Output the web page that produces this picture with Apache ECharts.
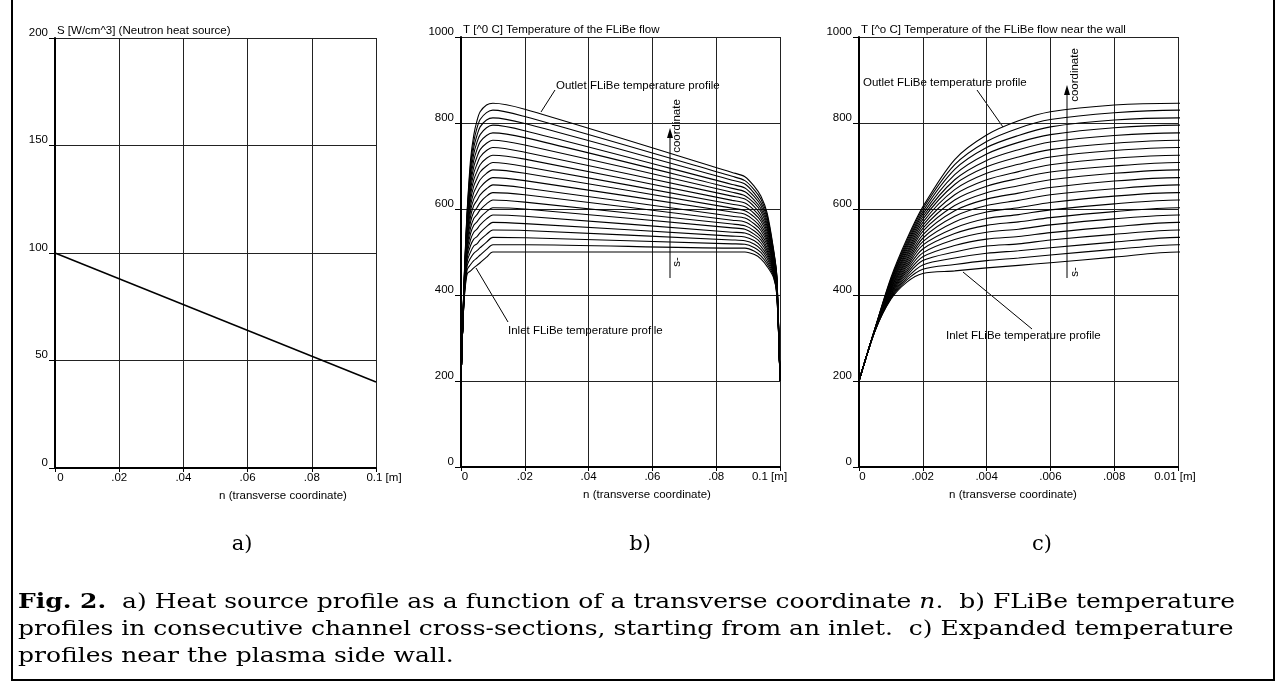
<!DOCTYPE html>
<html>
<head>
<meta charset="utf-8">
<script src="https://cdn.jsdelivr.net/npm/echarts@6/dist/echarts.min.js"></script>
<style>
html, body { margin: 0; padding: 0; background: #fff; }
#chart { width: 1287px; height: 689px; }
</style>
</head>
<body>
<div id="chart"></div>
<script>
const nGrid = [0, 0.0005, 0.001, 0.0015, 0.002, 0.003, 0.004, 0.005, 0.006, 0.008, 0.01, 0.02, 0.085, 0.089, 0.092, 0.094, 0.096, 0.098, 0.099, 0.1];

// heat source S(n)
const sourceN = [0, 0.1];
const sourceS = [100, 40];

// FLiBe temperature profiles T(n), inlet first ... outlet last
const profiles = [
  [200, 316, 390, 430, 450, 456, 463, 469, 475, 488, 500, 500, 500, 500, 494, 484, 466, 440, 400, 200],
  [200, 316, 392, 435, 460, 471, 480, 486, 493, 506, 517, 517, 509, 509, 502, 491, 472, 443, 402, 200],
  [200, 317, 395, 440, 470, 486, 497, 503, 510, 523, 534, 533, 519, 518, 510, 499, 478, 447, 405, 200],
  [200, 317, 397, 445, 480, 500, 514, 519, 528, 541, 551, 550, 528, 526, 518, 506, 485, 450, 407, 200],
  [200, 317, 400, 450, 489, 515, 530, 536, 545, 559, 569, 566, 537, 535, 526, 513, 491, 453, 409, 200],
  [200, 318, 402, 455, 498, 529, 546, 553, 563, 577, 586, 583, 546, 544, 534, 521, 497, 456, 411, 200],
  [200, 318, 405, 460, 507, 543, 562, 570, 580, 594, 603, 600, 556, 553, 541, 528, 503, 460, 414, 200],
  [200, 318, 407, 465, 516, 556, 578, 587, 598, 612, 621, 616, 565, 561, 549, 535, 509, 463, 416, 200],
  [200, 319, 410, 470, 524, 570, 593, 603, 615, 630, 638, 633, 574, 570, 557, 542, 516, 466, 418, 200],
  [200, 319, 412, 475, 532, 583, 608, 620, 633, 647, 656, 649, 583, 579, 565, 550, 522, 469, 420, 200],
  [200, 319, 415, 480, 540, 596, 623, 637, 650, 665, 673, 666, 593, 588, 573, 557, 528, 473, 423, 200],
  [200, 319, 417, 485, 548, 608, 638, 654, 668, 683, 691, 683, 602, 596, 581, 564, 534, 476, 425, 200],
  [200, 320, 420, 490, 555, 621, 653, 671, 686, 700, 708, 699, 611, 605, 589, 572, 540, 479, 427, 200],
  [200, 320, 422, 495, 562, 633, 668, 687, 703, 718, 725, 716, 620, 614, 597, 579, 547, 482, 429, 200],
  [200, 320, 425, 500, 569, 645, 683, 704, 721, 736, 743, 732, 630, 623, 605, 586, 553, 486, 432, 200],
  [200, 321, 427, 505, 576, 657, 698, 721, 738, 753, 760, 749, 639, 631, 613, 594, 559, 489, 434, 200],
  [200, 321, 430, 510, 582, 668, 713, 738, 756, 771, 777, 766, 648, 640, 620, 601, 565, 492, 436, 200],
  [200, 321, 432, 515, 588, 680, 728, 755, 773, 789, 795, 782, 657, 649, 628, 608, 571, 495, 438, 200],
  [200, 322, 435, 520, 594, 692, 743, 771, 791, 807, 812, 799, 667, 658, 636, 615, 578, 499, 441, 200],
  [200, 322, 437, 525, 600, 703, 757, 788, 808, 824, 830, 815, 676, 666, 644, 623, 584, 502, 443, 200],
  [200, 322, 440, 530, 605, 715, 772, 805, 826, 842, 846, 832, 685, 675, 652, 630, 590, 505, 445, 200]
];

// tick labels
const xLabelsWide = ['0', '.02', '.04', '.06', '.08', '0.1 [m]'];
const xLabelsNear = ['0', '.002', '.004', '.006', '.008', '0.01 [m]'];
const sTicks = [0, 50, 100, 150, 200];
const tTicks = [0, 200, 400, 600, 800, 1000];

const SANS = '"Liberation Sans", Arial, sans-serif';
const SERIF = '"DejaVu Serif", serif';
const FS = 11.5;

const chart = echarts.init(document.getElementById('chart'));

function xAxisFor(grid, max, labels, firstPad, lastPad) {
  return {
    type: 'value', gridIndex: grid, min: 0, max: max, interval: max / (labels.length - 1),
    axisLine: { show: true, onZero: false, lineStyle: { color: '#000', width: 2 } },
    axisTick: { show: true, length: 4, lineStyle: { color: '#000' } },
    splitLine: { show: true, lineStyle: { color: '#222', width: 1 } },
    axisLabel: {
      show: true, showMinLabel: true, showMaxLabel: true, margin: 4,
      color: '#000', fontFamily: SANS, fontSize: FS,
      formatter: function (v, i) {
        if (i === 0) return '{f|' + labels[0] + '}';
        if (i === labels.length - 1) return '{l|' + labels[i] + '}';
        return labels[i];
      },
      rich: {
        f: { fontFamily: SANS, fontSize: FS, color: '#000', padding: [0, 0, 0, firstPad] },
        l: { fontFamily: SANS, fontSize: FS, color: '#000', padding: lastPad }
      }
    }
  };
}

function yAxisFor(grid, ticks, name) {
  return {
    type: 'value', gridIndex: grid, min: ticks[0], max: ticks[ticks.length - 1],
    interval: ticks[1] - ticks[0],
    name: name, nameLocation: 'end', nameGap: 1,
    nameTextStyle: { color: '#000', fontFamily: SANS, fontSize: FS, align: 'left', verticalAlign: 'bottom', padding: [0, 0, 0, 2], lineHeight: 12 },
    axisLine: { show: true, lineStyle: { color: '#000', width: 2 } },
    axisTick: { show: true, length: 6, lineStyle: { color: '#000' } },
    splitLine: { show: true, lineStyle: { color: '#222', width: 1 } },
    axisLabel: {
      show: true, margin: 7, color: '#000', fontFamily: SANS, fontSize: FS,
      verticalAlign: 'bottom', lineHeight: 11,
      formatter: function (v) { return String(v); }
    }
  };
}

const series = [{
  type: 'line', xAxisIndex: 0, yAxisIndex: 0, symbol: 'none',
  lineStyle: { color: '#000', width: 1.5 },
  data: sourceN.map((n, i) => [n, sourceS[i]])
}];
[1, 2].forEach(function (g) {
  profiles.forEach(function (row) {
    series.push({
      type: 'line', xAxisIndex: g, yAxisIndex: g, symbol: 'none', smooth: 0.3,
      clip: true, silent: true,
      lineStyle: { color: '#000', width: 1.1 },
      data: nGrid.map((n, j) => [n, row[j]])
    });
  });
});

function text(x, y, s, extra) {
  return {
    type: 'text', x: x, y: y, silent: true,
    style: Object.assign({ text: s, fill: '#000', fontFamily: SANS, fontSize: FS, align: 'left', verticalAlign: 'middle' }, extra || {})
  };
}
function caption(y, s) {
  const t = text(18, y, s, {
    fontFamily: SERIF, fontSize: 21,
    rich: { b: { fontFamily: SERIF, fontSize: 21, fontWeight: 'bold' }, i: { fontFamily: SERIF, fontSize: 21, fontStyle: 'italic' } }
  });
  t.scaleX = 1.19;
  return t;
}
function seg(x1, y1, x2, y2, w) {
  return { type: 'line', silent: true, shape: { x1: x1, y1: y1, x2: x2, y2: y2 }, style: { stroke: '#000', lineWidth: w || 1 } };
}
function head(x, y) {
  return { type: 'polygon', silent: true, shape: { points: [[x, y], [x - 3, y + 10], [x + 3, y + 10]] }, style: { fill: '#000' } };
}
function vtext(x, y, s) {
  return { type: 'text', x: x, y: y, rotation: Math.PI / 2, silent: true, style: { text: s, fill: '#000', fontFamily: SANS, fontSize: FS, align: 'center', verticalAlign: 'middle' } };
}

const graphic = [
  { type: 'rect', silent: true, shape: { x: 12, y: -10, width: 1262, height: 690 }, style: { fill: 'none', stroke: '#000', lineWidth: 2 } },
  // axis titles under the panels
  text(283, 496, 'n (transverse coordinate)', { align: 'center' }),
  text(647, 495, 'n (transverse coordinate)', { align: 'center' }),
  text(1013, 495, 'n (transverse coordinate)', { align: 'center' }),
  // panel b annotations
  text(556, 86, 'Outlet FLiBe temperature profile'),
  seg(555, 90, 541, 112),
  text(508, 331, 'Inlet FLiBe temperature profile'),
  seg(508, 322, 476, 268),
  seg(670, 278, 670, 134),
  head(670, 128),
  vtext(677, 126, 'coordinate'),
  vtext(677, 262, 's-'),
  // panel c annotations
  text(863, 83, 'Outlet FLiBe temperature profile'),
  seg(977, 90, 1003, 127),
  text(946, 336, 'Inlet FLiBe temperature profile'),
  seg(1032, 329, 963, 272),
  seg(1067, 278, 1067, 91),
  head(1067, 85),
  vtext(1075, 75, 'coordinate'),
  vtext(1075, 272, 's-'),
  // panel letters
  text(242, 545, 'a)', { align: 'center', fontFamily: SERIF, fontSize: 21 }),
  text(640, 545, 'b)', { align: 'center', fontFamily: SERIF, fontSize: 21 }),
  text(1042, 545, 'c)', { align: 'center', fontFamily: SERIF, fontSize: 21 }),
  // caption
  caption(603, '{b|Fig. 2.}  a) Heat source profile as a function of a transverse coordinate {i|n}.  b) FLiBe temperature'),
  caption(630, 'profiles in consecutive channel cross-sections, starting from an inlet.  c) Expanded temperature'),
  caption(657, 'profiles near the plasma side wall.')
];

chart.setOption({
  animation: false,
  backgroundColor: '#fff',
  grid: [
    { left: 55, top: 38, width: 321, height: 430 },
    { left: 461, top: 37, width: 319, height: 430 },
    { left: 859, top: 37, width: 319, height: 430 }
  ],
  xAxis: [
    xAxisFor(0, 0.1, xLabelsWide, 11, [0, 0, 0, 16]),
    xAxisFor(1, 0.1, xLabelsWide, 8, [0, 21, 0, 0]),
    xAxisFor(2, 0.01, xLabelsNear, 7, [0, 6, 0, 0])
  ],
  yAxis: [
    yAxisFor(0, sTicks, 'S [W/cm^3] (Neutron heat source)'),
    yAxisFor(1, tTicks, 'T [^0 C] Temperature of the FLiBe flow'),
    yAxisFor(2, tTicks, 'T [^o C] Temperature of the FLiBe flow near the wall')
  ],
  series: series,
  graphic: graphic
});
</script>
</body>
</html>
